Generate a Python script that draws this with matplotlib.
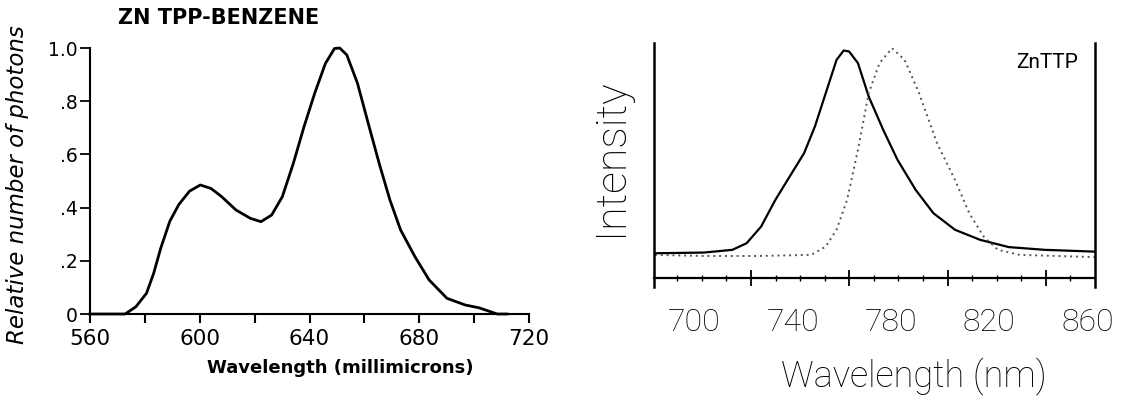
import matplotlib
matplotlib.use("Agg")
import matplotlib.pyplot as plt
from matplotlib.ticker import FixedLocator, NullFormatter

# Zn TPP in benzene: emission spectrum (relative photons)
tpp_wl = [560, 572.8, 576.7, 580.6, 583.2, 585.8, 589.1, 592.4, 596.3, 600.2,
          604.1, 608.0, 613.2, 618.4, 622.3, 626.2, 630.1, 634.1, 638.0, 641.9,
          645.8, 649.1, 651.0, 653.6, 657.5, 661.4, 665.4, 669.3, 673.2, 678.4,
          683.6, 690.1, 696.7, 701.9, 708.4, 712]
tpp_rel = [0.0, 0.0, 0.027, 0.078, 0.153, 0.248, 0.349, 0.412, 0.462, 0.485,
           0.472, 0.441, 0.391, 0.36, 0.347, 0.372, 0.441, 0.566, 0.704, 0.83,
           0.942, 0.998, 1.0, 0.974, 0.867, 0.717, 0.566, 0.429, 0.316, 0.216,
           0.128, 0.059, 0.034, 0.023, 0.0, 0.0]

# ZnTTP: two emission spectra (solid and dotted)
ttp_wl_a = [683.9, 703.7, 715.4, 721.2, 727.1, 732.9, 738.7, 744.6, 749.0, 753.4,
            757.8, 760.7, 762.9, 766.5, 770.9, 776.8, 782.6, 790.0, 797.2, 806.0,
            816.2, 827.9, 842.5, 863.0]
ttp_int_a = [0.108, 0.111, 0.123, 0.152, 0.225, 0.342, 0.444, 0.547, 0.664, 0.81,
             0.956, 0.997, 0.993, 0.942, 0.795, 0.649, 0.518, 0.386, 0.284, 0.211,
             0.167, 0.135, 0.123, 0.115]
ttp_wl_b = [683.9, 703.7, 725.6, 747.5, 753.4, 757.8, 762.1, 766.5, 770.9, 775.3,
            780.4, 785.5, 791.4, 798.7, 806.0, 811.8, 817.7, 823.5, 832.3, 863.0]
ttp_int_b = [0.101, 0.096, 0.096, 0.101, 0.137, 0.211, 0.342, 0.561, 0.81, 0.942,
             1.007, 0.956, 0.81, 0.591, 0.43, 0.284, 0.181, 0.123, 0.101, 0.091]

left_xticks = [560, 600, 640, 680, 720]
left_xminor = [580, 620, 660, 700]
left_yticks = [0, 0.2, 0.4, 0.6, 0.8, 1.0]
left_ylabels = ["0", ".2", ".4", ".6", ".8", "1.0"]
right_xticks = [700, 740, 780, 820, 860]
right_major_marks = [723, 763, 803, 843]
right_minor_marks = [693, 703, 713, 733, 743, 753, 773, 783, 793, 813, 823, 833, 853]

W, H = 1124, 398
fig = plt.figure(figsize=(W / 100, H / 100), dpi=100)

# ---- left panel ----
ax1 = fig.add_axes([90 / W, 1 - 314 / H, (529 - 90) / W, (314 - 48) / H])
ax1.plot(tpp_wl, tpp_rel, color="black", lw=2.0, clip_on=False)
ax1.set_xlim(560, 720)
ax1.set_ylim(0, 1.0)
for s in ["top", "right"]:
    ax1.spines[s].set_visible(False)
for s in ["left", "bottom"]:
    ax1.spines[s].set_linewidth(1.5)
ax1.set_xticks(left_xticks)
ax1.xaxis.set_minor_locator(FixedLocator(left_xminor))
ax1.set_yticks(left_yticks, left_ylabels)
ax1.tick_params(axis="x", which="both", direction="out", length=6.5, width=1.5,
                labelsize=15.5, pad=4)
ax1.tick_params(axis="y", direction="out", length=7, width=1.3, labelsize=13.5, pad=2)
ax1.set_xlabel("Wavelength (millimicrons)", fontsize=13, fontweight="bold")
ax1.xaxis.set_label_coords(0.571, -0.17)
ax1.set_ylabel("Relative number of photons", fontsize=16.5, style="italic")
ax1.yaxis.set_label_coords(-0.138, 0.485)
ax1.text(0.064, 1.075, "ZN TPP-BENZENE", transform=ax1.transAxes, fontsize=15,
         fontweight="bold", va="bottom", ha="left")

# ---- right panel ----
thin = dict(family=["Roboto", "DejaVu Sans"], fontweight="light")
ax2 = fig.add_axes([654 / W, 1 - 287 / H, (1095 - 654) / W, (287 - 43) / H])
ax2.plot(ttp_wl_a, ttp_int_a, color="black", lw=1.6)
ax2.plot(ttp_wl_b, ttp_int_b, color="#555555", lw=1.4, ls=(0, (1, 2)))
ax2.set_xlim(683.5, 863)
ax2.set_ylim(-0.04, 1.03)
ax2.spines["top"].set_visible(False)
ax2.spines["bottom"].set_visible(False)
for s in ["left", "right"]:
    ax2.spines[s].set_linewidth(1.8)
ax2.set_yticks([])
ax2.set_xticks(right_xticks, [str(v) for v in right_xticks], fontsize=23, **thin)
ax2.tick_params(axis="x", length=0, pad=15)

# axis line with its own tick marks, sitting above the panel bottom
sec = ax2.secondary_xaxis(0.04 / 1.07)
sec.spines["bottom"].set_linewidth(1.6)
sec.xaxis.set_major_locator(FixedLocator(right_major_marks))
sec.xaxis.set_minor_locator(FixedLocator(right_minor_marks))
sec.xaxis.set_major_formatter(NullFormatter())
sec.tick_params(axis="x", which="major", direction="inout", length=12, width=1.3)
sec.tick_params(axis="x", which="minor", direction="inout", length=5, width=1.0)

ax2.set_xlabel("Wavelength (nm)", fontsize=26, **thin)
ax2.xaxis.set_label_coords(0.59, -0.288)
ax2.set_ylabel("Intensity", fontsize=31, **thin)
ax2.yaxis.set_label_coords(-0.052, 0.531)
ax2.text(0.961, 0.922, "ZnTTP", transform=ax2.transAxes, fontsize=15,
         ha="right", va="center", family=["Roboto", "DejaVu Sans"])

fig.savefig("out.png", dpi=100)
